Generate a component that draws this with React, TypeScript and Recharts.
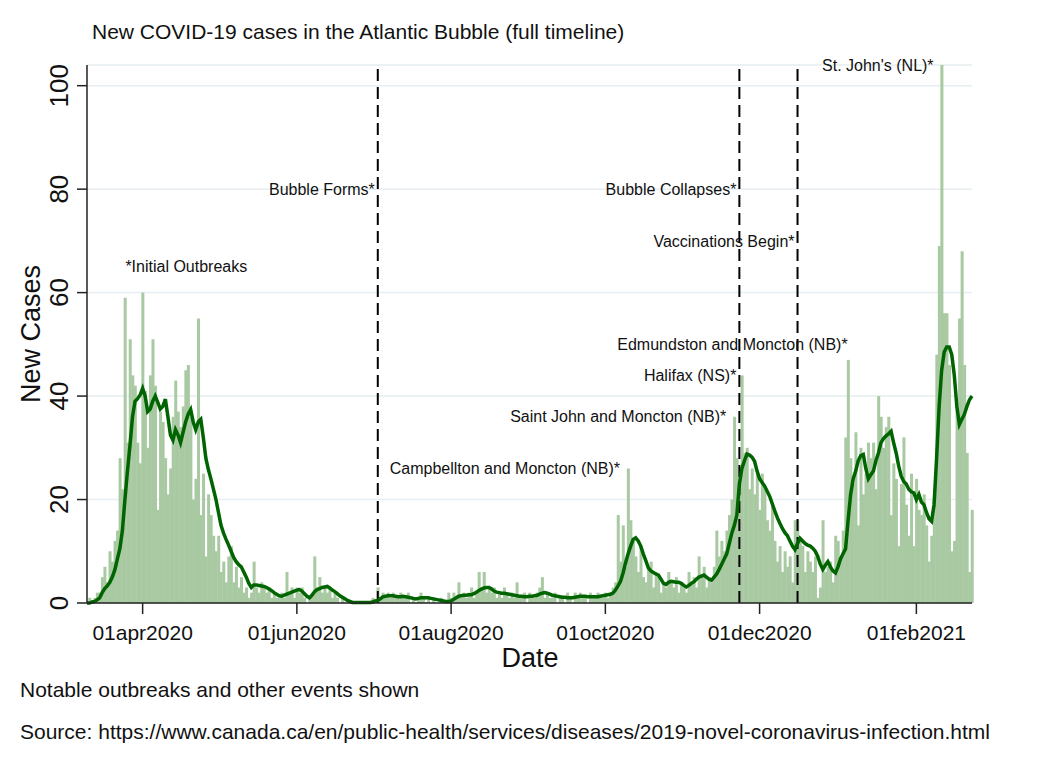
import {
  ComposedChart,
  Bar,
  Line,
  XAxis,
  YAxis,
  CartesianGrid,
  ReferenceLine,
  ReferenceDot,
} from 'recharts';

// daily new cases, day 0 = 10mar2020 ... day 350 = 23feb2021
const newCases = [
  0, 1, 0, 1, 2, 2, 5, 7, 4, 10,
  8, 12, 14, 28, 22, 59, 31, 51, 44, 42,
  31, 27, 60, 41, 30, 44, 51, 42, 18, 37,
  35, 28, 21, 26, 36, 43, 37, 34, 38, 45,
  46, 36, 20, 24, 55, 17, 25, 9, 21, 17,
  13, 10, 13, 6, 8, 4, 9, 11, 4, 7,
  3, 5, 2, 3, 1, 2, 8, 3, 2, 4,
  3, 2, 3, 1, 2, 1, 1, 2, 1, 6,
  2, 3, 1, 3, 2, 3, 1, 0, 1, 2,
  9, 3, 5, 2, 3, 2, 3, 1, 2, 1,
  0, 1, 0, 0, 0, 0, 0, 0, 0, 0,
  0, 0, 0, 1, 0, 3, 1, 2, 1, 2,
  1, 2, 1, 1, 2, 1, 1, 2, 0, 1,
  0, 1, 2, 1, 0, 1, 0, 1, 0, 0,
  1, 0, 0, 2, 1, 2, 1, 4, 1, 2,
  1, 2, 3, 1, 2, 6, 3, 6, 2, 3,
  2, 3, 1, 2, 1, 3, 2, 1, 2, 1,
  4, 1, 1, 2, 0, 2, 1, 1, 2, 3,
  5, 1, 2, 1, 1, 2, 0, 1, 1, 0,
  2, 1, 0, 2, 1, 2, 1, 1, 0, 2,
  1, 1, 2, 1, 1, 2, 1, 2, 3, 4,
  17, 8, 15, 7, 26, 16, 12, 9, 6, 11,
  5, 4, 7, 8, 3, 6, 5, 2, 4, 3,
  6, 4, 3, 5, 2, 4, 3, 2, 6, 4,
  5, 3, 9, 5, 7, 3, 5, 4, 7, 14,
  9, 12, 10, 14, 17, 20, 36, 28, 24, 44,
  29, 30, 22, 26, 21, 25, 18, 25, 22, 16,
  14, 19, 12, 8, 11, 6, 10, 7, 9, 4,
  16, 16, 12, 11, 6, 10, 8, 6, 9, 1,
  3, 16, 6, 7, 8, 4, 13, 12, 9, 14,
  32, 47, 28, 23, 33, 15, 30, 21, 25, 31,
  28, 31, 22, 40, 36, 30, 34, 36, 17, 27,
  24, 11, 23, 32, 19, 13, 25, 11, 24, 18,
  17, 21, 15, 8, 13, 20, 48, 69, 104, 56,
  56, 46, 10, 12, 38, 55, 68, 46, 29, 6, 18,
];

// 7-day moving average as drawn
const movingAvg = [
  0, 0, 0.2, 0.3, 0.6, 1, 2, 2.8, 3.3, 4,
  5, 6.4, 8.5, 10.5, 14, 20, 25.5, 30.5, 36, 39,
  39.5, 40.2, 41.5, 40, 37, 37.5, 39, 40, 38.8, 37.5,
  38, 39.4, 36, 32.5, 31.5, 33.5, 32.5, 31, 33, 35,
  36.5, 37.4, 35, 33.5, 35, 35.5, 32, 28, 25.8, 24,
  22, 20, 17.5, 15, 13.5, 12.3, 11.2, 10, 8.8, 8,
  7.4, 7, 6, 5, 3.8, 3, 3.5, 3.5, 3.4, 3.3,
  3.2, 3, 2.7, 2.4, 2, 1.7, 1.4, 1.3, 1.5, 1.7,
  1.9, 2.1, 2.3, 2.5, 2.6, 2.3, 1.8, 1.3, 1, 1.5,
  2.2, 2.6, 2.8, 3, 3.1, 3.2, 2.9, 2.5, 2.2, 1.8,
  1.4, 1.1, 0.8, 0.5, 0.3, 0.1, 0.1, 0.1, 0.1, 0.1,
  0.1, 0.1, 0.1, 0.2, 0.4, 0.5, 0.8, 1.2, 1.3, 1.4,
  1.4, 1.4, 1.3, 1.2, 1.2, 1.3, 1.2, 1.1, 1, 0.9,
  0.8, 0.9, 1, 1, 1, 1, 0.9, 0.8, 0.7, 0.6,
  0.5, 0.4, 0.3, 0.3, 0.4, 0.7, 1, 1.3, 1.4, 1.5,
  1.5, 1.6, 1.6, 1.8, 2.1, 2.4, 2.7, 2.9, 3, 3,
  2.7, 2.3, 2.1, 2, 1.9, 1.9, 1.8, 1.7, 1.6, 1.5,
  1.4, 1.3, 1.3, 1.2, 1.2, 1.3, 1.3, 1.4, 1.5, 1.7,
  1.9, 2, 1.9, 1.7, 1.5, 1.4, 1.3, 1.2, 1.1, 1.1,
  1, 1, 1, 1.1, 1.2, 1.3, 1.3, 1.3, 1.2, 1.2,
  1.2, 1.2, 1.2, 1.3, 1.4, 1.5, 1.6, 1.7, 1.9, 2.5,
  3.3, 4.2, 5.8, 7.8, 9.5, 11, 12.3, 12.6, 12, 11,
  9.5, 8.2, 6.8, 6.2, 5.9, 5.6, 5.4, 4.6, 3.8, 3.6,
  4, 4.2, 4.1, 4, 4, 3.8, 3.4, 3.1, 3.4, 3.8,
  4.1, 4.6, 5, 5.2, 5.4, 5, 4.6, 4.4, 5, 5.6,
  6.5, 7.5, 8.5, 9.5, 11.5, 13.5, 15, 17, 23, 26,
  27.5, 28.8, 28.6, 28.2, 27.4, 25.5, 24, 23.3, 22.6, 21.6,
  20.6, 19.2, 17.8, 16.5, 15.4, 14.4, 13.6, 13, 12, 11,
  10.3, 11.5, 12.5, 12, 11.5, 11.2, 11, 10.6, 10, 9,
  7.5, 6.5, 7.3, 8, 7, 6.2, 5.8, 7, 8.5, 9.5,
  10.5, 16, 21, 24, 25.5, 27.5, 28.5, 28.7, 26, 24,
  24.8, 25.5, 27.5, 29, 31, 31.8, 32.3, 32.7, 33.2, 31,
  29, 26.5, 24.5, 23.5, 23, 22, 21.5, 21.3, 20, 21,
  19.5, 19, 17.5, 16.3, 15.8, 19, 28, 38, 45, 48.5,
  49.5, 49.5, 48, 44, 38, 34.5, 35.5, 36.5, 38, 39.3, 40,
];

const tickDays = [22, 83, 144, 205, 266, 328];
const tickLabels = ['01apr2020', '01jun2020', '01aug2020', '01oct2020', '01dec2020', '01feb2021'];
const yTicks = [0, 20, 40, 60, 80, 100];

// bubble forms 03jul2020, bubble collapses 23nov2020, vaccinations 16dec2020
const eventDays = [115, 258, 281];

const annotations = [
  { text: '*Initial Outbreaks', day: 14, value: 65, side: 'right' },
  { text: 'Bubble Forms*', day: 115, value: 80, side: 'left' },
  { text: 'Campbellton and Moncton (NB)*', day: 212, value: 26, side: 'left' },
  { text: 'Saint John and Moncton (NB)*', day: 254, value: 36, side: 'left' },
  { text: 'Halifax (NS)*', day: 258, value: 44, side: 'left' },
  { text: 'Bubble Collapses*', day: 258, value: 80, side: 'left' },
  { text: 'Vaccinations Begin*', day: 281, value: 70, side: 'left' },
  { text: 'Edmundston and Moncton (NB)*', day: 302, value: 50, side: 'left' },
  { text: "St. John's (NL)*", day: 336, value: 104, side: 'left' },
];

const FONT = '"Liberation Sans", Arial, Helvetica, sans-serif';
const INK = '#111';

const data = newCases.map((c, i) => ({ day: i, cases: c, avg: movingAvg[i] }));

const YTick = (props: any) => {
  const { x, y, payload } = props;
  return (
    <text
      x={x}
      y={y}
      transform={`rotate(-90 ${x} ${y})`}
      textAnchor="middle"
      fontSize={26}
      fontFamily={FONT}
      fill={INK}
    >
      {payload.value}
    </text>
  );
};

export default function App() {
  return (
    <div style={{ position: 'absolute', left: 0, top: 0, width: 1050, height: 764, background: '#fff' }}>
      <ComposedChart
        width={1050}
        height={764}
        data={data}
        margin={{ top: 65, right: 78, bottom: 121, left: 27 }}
        barCategoryGap={0}
        barGap={0}
      >
        <CartesianGrid vertical={false} stroke="#e6eef1" strokeWidth={1.5} />
        <XAxis
          dataKey="day"
          type="number"
          domain={[0, 350]}
          ticks={tickDays}
          tickFormatter={(v: number) => tickLabels[tickDays.indexOf(v)]}
          height={40}
          tickSize={11}
          tickMargin={11}
          stroke="#222"
          strokeWidth={1.5}
          tick={{ fontSize: 21, fontFamily: FONT, fill: INK }}
        />
        <YAxis
          domain={[0, 104]}
          ticks={yTicks}
          width={60}
          tickSize={10}
          tickMargin={9}
          stroke="#222"
          strokeWidth={1.5}
          tick={<YTick />}
        />
        <Bar dataKey="cases" fill="#a8c9a2" isAnimationActive={false} />
        {eventDays.map((d) => (
          <ReferenceLine key={d} x={d} stroke="#000" strokeWidth={2} strokeDasharray="12 6" />
        ))}
        <Line
          type="linear"
          dataKey="avg"
          stroke="#006400"
          strokeWidth={3.5}
          dot={false}
          activeDot={false}
          isAnimationActive={false}
        />
        {annotations.map((a) => (
          <ReferenceDot
            key={a.text}
            x={a.day}
            y={a.value}
            r={0}
            fill="none"
            stroke="none"
            ifOverflow="visible"
            label={{ value: a.text, position: a.side, offset: 3, fontSize: 16, fontFamily: FONT, fill: INK }}
          />
        ))}
      </ComposedChart>
      <svg
        width={1050}
        height={764}
        style={{ position: 'absolute', left: 0, top: 0, pointerEvents: 'none' }}
        fontFamily={FONT}
        fill={INK}
      >
        <text x={92} y={39} fontSize={21}>
          New COVID-19 cases in the Atlantic Bubble (full timeline)
        </text>
        <text x={40} y={334} fontSize={27} textAnchor="middle" transform="rotate(-90 40 334)">
          New Cases
        </text>
        <text x={530} y={667} fontSize={27} textAnchor="middle">
          Date
        </text>
        <text x={20} y={697} fontSize={21}>
          Notable outbreaks and other events shown
        </text>
        <text x={20} y={739} fontSize={21}>
          Source: https://www.canada.ca/en/public-health/services/diseases/2019-novel-coronavirus-infection.html
        </text>
      </svg>
    </div>
  );
}
